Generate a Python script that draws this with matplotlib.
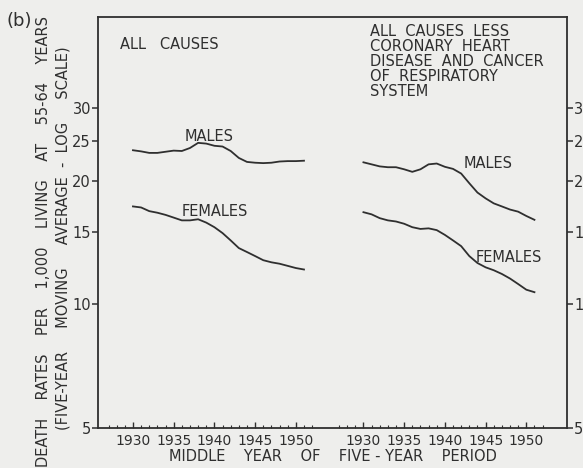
import numpy as np
import matplotlib
matplotlib.use("Agg")
import matplotlib.pyplot as plt
from matplotlib.ticker import FixedLocator, NullFormatter, NullLocator

# middle year of the five-year period
years = np.arange(1930, 1952)

# all causes, death rate per 1,000 living at 55-64
all_males = [23.7, 23.55, 23.35, 23.35, 23.5, 23.65, 23.6, 24.0, 24.7, 24.6, 24.3,
             24.2, 23.6, 22.7, 22.2, 22.1, 22.05, 22.1, 22.25, 22.3, 22.3, 22.35]
all_females = [17.3, 17.2, 16.85, 16.7, 16.5, 16.25, 16.0, 16.0, 16.1, 15.8, 15.4,
               14.9, 14.3, 13.7, 13.4, 13.1, 12.8, 12.65, 12.55, 12.4, 12.25, 12.15]

# all causes less coronary heart disease and cancer of respiratory system
less_males = [22.15, 21.9, 21.65, 21.55, 21.55, 21.3, 21.0, 21.3, 21.9, 22.0, 21.6,
              21.35, 20.8, 19.7, 18.7, 18.1, 17.6, 17.3, 17.0, 16.8, 16.4, 16.05]
less_females = [16.75, 16.55, 16.2, 16.0, 15.9, 15.7, 15.4, 15.25, 15.3, 15.15, 14.75,
                14.3, 13.85, 13.1, 12.6, 12.3, 12.1, 11.85, 11.55, 11.2, 10.85, 10.7]

year_ticks = [1930, 1935, 1940, 1945, 1950]
y_ticks = [5, 10, 15, 20, 25, 30]

offset = 28.3  # right panel drawn on the same axis, shifted along x
ink = "#2f2f2f"
paper = "#eeeeec"

fig = plt.figure(figsize=(5.83, 4.68), dpi=100, facecolor=paper)
ax = fig.add_axes([0.168, 0.0855, 0.8046, 0.8782])
ax.set_facecolor(paper)

ax.plot(years, all_males, color=ink, lw=1.3)
ax.plot(years, all_females, color=ink, lw=1.3)
ax.plot(years + offset, less_males, color=ink, lw=1.3)
ax.plot(years + offset, less_females, color=ink, lw=1.3)

ax.set_yscale("log")
ax.set_ylim(5, 50)
ax.set_xlim(1925.7, 1983.3)

for s in ax.spines.values():
    s.set_color(ink)
    s.set_linewidth(1.3)

ax.yaxis.set_major_locator(FixedLocator(y_ticks))
ax.yaxis.set_minor_locator(NullLocator())
ax.yaxis.set_minor_formatter(NullFormatter())
ax.set_yticklabels([str(v) for v in y_ticks])
ax.tick_params(axis="y", direction="out", length=4, width=1.1, color=ink,
               labelsize=10.5, labelcolor=ink, pad=1)

xt = year_ticks + [y + offset for y in year_ticks]
ax.set_xticks(xt)
ax.set_xticklabels([str(y) for y in year_ticks] * 2)
minor = list(np.arange(1927, 1953)) + list(np.arange(1927, 1953) + offset)
ax.set_xticks(minor, minor=True)
ax.tick_params(axis="x", which="major", direction="in", length=4, width=1.0,
               color=ink, labelsize=10, labelcolor=ink, pad=4)
ax.tick_params(axis="x", which="minor", direction="in", length=2.5, width=0.8,
               color=ink)

# right-hand scale
ax2 = ax.twinx()
ax2.set_yscale("log")
ax2.set_ylim(5, 50)
ax2.yaxis.set_major_locator(FixedLocator(y_ticks))
ax2.yaxis.set_minor_locator(NullLocator())
ax2.yaxis.set_minor_formatter(NullFormatter())
ax2.set_yticklabels([str(v) for v in y_ticks])
ax2.tick_params(axis="y", direction="out", length=4, width=1.1, color=ink,
                labelsize=10.5, labelcolor=ink, pad=1)
for s in ax2.spines.values():
    s.set_visible(False)

fs = 10.5
ax.text(0.047, 0.934, "ALL   CAUSES", transform=ax.transAxes, fontsize=fs,
        color=ink, va="center", ha="left")
ax.text(0.58, 0.982,
        "ALL  CAUSES  LESS\nCORONARY  HEART\nDISEASE  AND  CANCER\nOF  RESPIRATORY\nSYSTEM",
        transform=ax.transAxes, fontsize=fs, color=ink, va="top", ha="left",
        linespacing=1.0)

ax.text(1939.4, 25.6, "MALES", fontsize=fs, color=ink, ha="center", va="center")
ax.text(1940.1, 16.8, "FEMALES", fontsize=fs, color=ink, ha="center", va="center")
ax.text(1945.3 + offset, 22.0, "MALES", fontsize=fs, color=ink, ha="center", va="center")
ax.text(1947.9 + offset, 13.0, "FEMALES", fontsize=fs, color=ink, ha="center", va="center")

ax.set_xlabel("MIDDLE    YEAR    OF    FIVE - YEAR    PERIOD", fontsize=fs,
              color=ink, labelpad=1)

fig.text(0.075, 0.485,
         "DEATH    RATES    PER    1,000    LIVING    AT    55-64    YEARS",
         rotation=90, fontsize=fs, color=ink, ha="center", va="center")
fig.text(0.108, 0.491,
         "(FIVE-YEAR     MOVING     AVERAGE  -  LOG     SCALE)",
         rotation=90, fontsize=fs, color=ink, ha="center", va="center")
fig.text(0.012, 0.955, "(b)", fontsize=13, color=ink, ha="left", va="center")

fig.savefig("out.png", dpi=100, facecolor=paper)
